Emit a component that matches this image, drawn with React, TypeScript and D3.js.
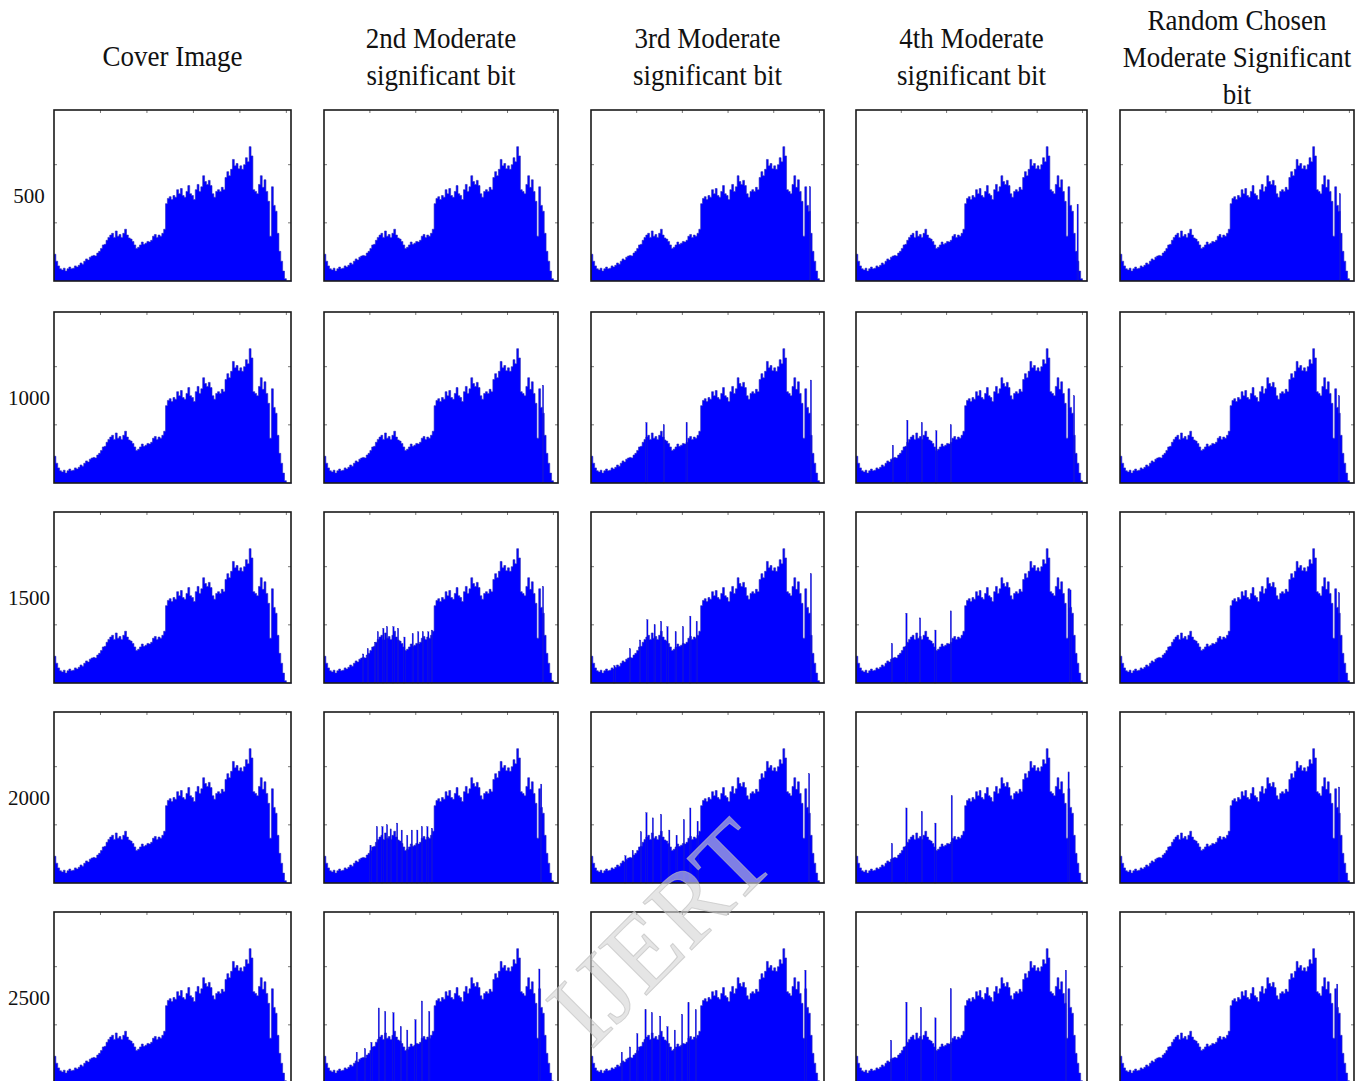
import React from 'react';
import * as d3 from 'd3';

// column headings and row labels (payload sizes)
const columnTitles = [
  ['Cover Image'],
  ['2nd Moderate', 'significant bit'],
  ['3rd Moderate', 'significant bit'],
  ['4th Moderate', 'significant bit'],
  ['Random Chosen', 'Moderate Significant', 'bit'],
];
const payloads = ['500', '1000', '1500', '2000', '2500'];

// grey-level histogram of the cover image, 2 grey levels per bin (0..255)
const coverCounts = [
  460, 340, 260, 210, 190, 220, 170, 210, 240, 210, 220, 260, 240, 270, 310, 290,
  340, 380, 360, 410, 430, 440, 430, 480, 510, 560, 620, 630, 700, 750, 790, 820,
  750, 860, 770, 800, 750, 820, 890, 790, 740, 720, 680, 620, 560, 580, 620, 670,
  630, 650, 680, 670, 700, 770, 800, 750, 790, 770, 820, 890, 1330, 1420, 1450, 1400,
  1470, 1440, 1570, 1500, 1590, 1470, 1440, 1540, 1640, 1500, 1470, 1400, 1570, 1660, 1540, 1620,
  1810, 1710, 1660, 1730, 1640, 1500, 1440, 1540, 1570, 1540, 1610, 1570, 1780, 1880, 1810, 1920,
  2090, 1980, 2020, 1930, 1980, 1920, 2000, 2120, 2050, 2310, 2150, 1570, 1540, 1500, 1660, 1810,
  1610, 1740, 1540, 1370, 770, 1620, 1300, 1200, 820, 510, 340, 170, 40, 0, 0, 0,
];
const binWidth = 2;

// single grey levels that stand out in the stego histograms: [grey, count]
// one list per column for each payload row
const spikes500 = [
  [],
  [],
  [[239, 1620]],
  [[244, 1320]],
  [[239, 1500]],
];
const spikes1000 = [
  [],
  [[238, 1680]],
  [[60, 1040], [79, 1000], [104, 1040], [240, 1770]],
  [[40, 650], [56, 1080], [72, 1040], [88, 900], [104, 1000], [240, 1500]],
  [[238, 1500]],
];
const spikes1500 = [
  [],
  [[42, 500], [47, 590], [55, 700], [58, 880], [64, 940], [68, 970], [75, 970], [80, 940],
   [87, 790], [96, 850], [102, 880], [107, 880], [113, 880], [117, 910], [238, 1660]],
  [[25, 300], [42, 590], [53, 740], [61, 1090], [69, 1000], [76, 1060], [83, 970], [92, 880],
   [100, 970], [108, 1150], [115, 1060], [240, 1880]],
  [[39, 680], [55, 1200], [70, 1120], [87, 910], [104, 1240], [236, 1600]],
  [[238, 1550]],
];
const spikes2000 = [
  [],
  [[50, 650], [57, 970], [63, 970], [68, 1000], [72, 930], [79, 1030], [84, 910], [90, 820],
   [95, 910], [101, 910], [106, 970], [112, 970], [117, 940], [236, 1700]],
  [[37, 470], [45, 560], [54, 880], [60, 1210], [67, 1120], [76, 1180], [85, 910], [93, 820],
   [101, 1090], [108, 1290], [116, 1060], [238, 1880]],
  [[39, 680], [55, 1290], [72, 1230], [87, 1030], [105, 1500], [234, 1910]],
  [[238, 1650]],
];
const spikes2500 = [
  [],
  [[35, 530], [44, 590], [51, 700], [59, 1290], [66, 1230], [75, 1210], [83, 970], [90, 910],
   [99, 1090], [106, 1410], [114, 1230], [234, 1960]],
  [[33, 530], [42, 620], [50, 850], [59, 1260], [66, 1210], [75, 1150], [83, 970], [91, 910],
   [99, 1180], [106, 1380], [114, 1260], [234, 1940]],
  [[38, 735], [55, 1390], [71, 1300], [87, 1120], [104, 1620], [231, 1940]],
  [[236, 1700]],
];
const spikeRows = [spikes500, spikes1000, spikes1500, spikes2000, spikes2500];

const xTicks = [50, 100, 150, 200, 250];
const yTicks = [1000, 2000];
const yMax = 2940;

// layout of the grid
const colLeft = [54, 324, 591, 856, 1120];
const colWidth = [237, 234, 233, 231, 234];
const rowTop = [110, 312, 512, 712, 912];
const panelH = 171;

const serif = '"Liberation Serif", "Times New Roman", serif';

function Histogram({ x0, y0, w, spikes }) {
  const x = d3.scaleLinear().domain([0, 255]).range([0, w]);
  const y = d3.scaleLinear().domain([0, yMax]).range([panelH, 0]);

  const pts = coverCounts.map((c, i) => [i * binWidth, c]);
  pts.push([coverCounts.length * binWidth, 0]);
  const area = d3.area()
    .x(d => x(d[0]))
    .y0(panelH)
    .y1(d => y(d[1]))
    .curve(d3.curveStepAfter);
  const line = d3.line()
    .x(d => x(d[0]))
    .y(d => y(d[1]))
    .curve(d3.curveStepAfter);

  return (
    <g transform={`translate(${x0},${y0})`}>
      <rect x={0} y={0} width={w} height={panelH} fill="#fff" />
      <path d={area(pts)} fill="#0000ff" />
      <path d={line(pts)} fill="none" stroke="#2a2ab8" strokeWidth={0.6} />
      {spikes.map(([g, c], i) => (
        <rect key={i} x={x(g)} y={y(c)} width={Math.max(1.3, x(g + 1) - x(g))}
          height={panelH - y(c)} fill="#0000ff" stroke="#3030a0" strokeWidth={0.3} />
      ))}
      {xTicks.map(t => (
        <line key={'xt' + t} x1={x(t)} x2={x(t)} y1={0} y2={3} stroke="#777" strokeWidth={1} />
      ))}
      {yTicks.map(t => (
        <g key={'yt' + t}>
          <line x1={0} x2={3} y1={y(t)} y2={y(t)} stroke="#777" strokeWidth={1} />
          <line x1={w - 3} x2={w} y1={y(t)} y2={y(t)} stroke="#777" strokeWidth={1} />
        </g>
      ))}
      <rect x={0} y={0} width={w} height={panelH} fill="none" stroke="#1a1a1a" strokeWidth={1.6} />
    </g>
  );
}

export default function App() {
  const titleBaselines = [[66], [48, 85], [48, 85], [48, 85], [30, 67, 104]];
  return (
    <svg width={1365} height={1081} style={{ position: 'absolute', left: 0, top: 0, background: '#fff' }}
      fontFamily={serif}>
      <rect x={0} y={0} width={1365} height={1081} fill="#fff" />
      {columnTitles.map((lines, ci) =>
        lines.map((s, li) => (
          <text key={'t' + ci + '-' + li} textAnchor="middle" fontSize={27} fill="#111"
            transform={`translate(${colLeft[ci] + colWidth[ci] / 2},${titleBaselines[ci][li]}) scale(1,1.12)`}>
            {s}
          </text>
        ))
      )}
      {payloads.map((p, ri) => (
        <text key={'p' + ri} x={29} y={rowTop[ri] + 93} textAnchor="middle" fontSize={21} fill="#111">{p}</text>
      ))}
      {payloads.map((p, ri) =>
        columnTitles.map((_, ci) => (
          <Histogram key={ri + '-' + ci} x0={colLeft[ci]} y0={rowTop[ri]} w={colWidth[ci]}
            spikes={spikeRows[ri][ci]} />
        ))
      )}
      <text x={668} y={940} textAnchor="middle" dominantBaseline="middle" fontSize={104}
        transform="rotate(-45, 668, 940)" fill="#d4d4d4" fillOpacity={0.6} stroke="#bbb" strokeWidth={1}
        strokeOpacity={0.6}>IJERT</text>
    </svg>
  );
}
